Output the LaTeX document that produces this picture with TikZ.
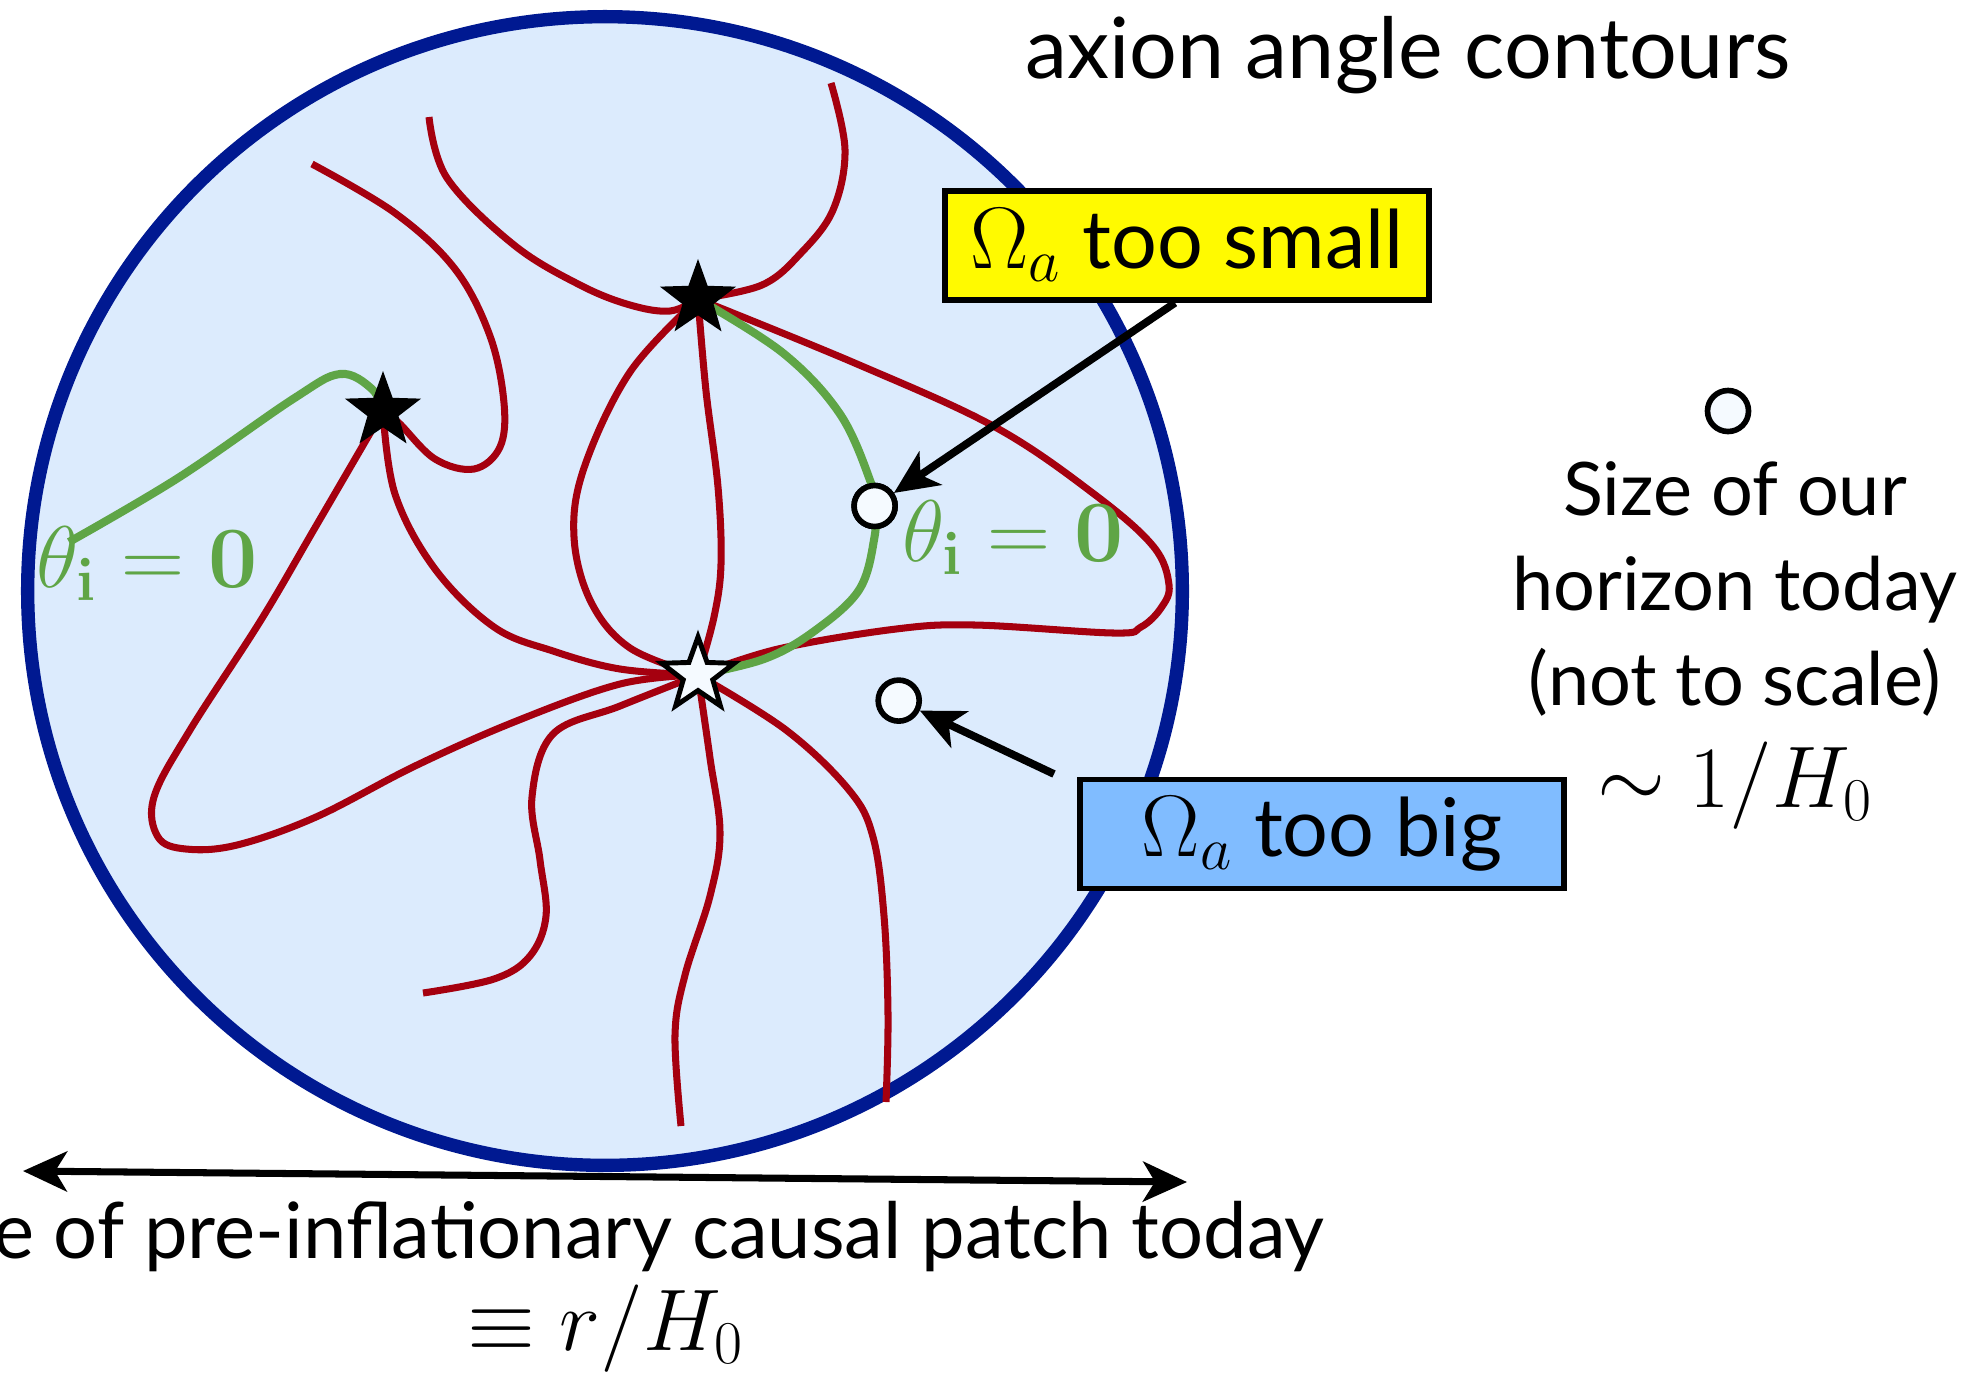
\documentclass[tikz,border=0pt]{standalone}
\usepackage{amsmath,amssymb}
\usepackage[no-math]{fontspec}
\setmainfont{Lato}
\usetikzlibrary{arrows.meta,shapes.geometric}
\definecolor{figN}{RGB}{0,25,145}
\definecolor{figS}{RGB}{220,235,253}
\definecolor{figR}{RGB}{165,0,15}
\definecolor{figG}{RGB}{95,165,70}
\definecolor{figY}{RGB}{255,250,0}
\definecolor{figB}{RGB}{128,188,255}
\definecolor{figW}{RGB}{245,250,255}
\newcommand{\Oma}{{\fontsize{26}{30}\selectfont$\Omega_a$}}

\begin{document}
\begin{tikzpicture}[x=0.01cm,y=-0.01cm,>={Stealth[length=4.4mm,width=4mm,inset=1.2mm]},
  contour/.style={figR,line width=2pt,smooth,tension=0.6},
  zero/.style={figG,line width=2.3pt,smooth,tension=0.6},
  vortex/.style={star,star points=5,star point ratio=2.45,minimum size=8mm,inner sep=0pt},
  patch/.style={circle,draw=black,line width=1.6pt,fill=figW,minimum size=4.1mm,inner sep=0pt},
  tag/.style={draw=black,line width=1.6pt,minimum width=4.84cm,minimum height=1.09cm,inner sep=2pt,font=\fontsize{23}{27}\selectfont},
  lbl/.style={font=\fontsize{21}{27}\selectfont},
  eqn/.style={font=\fontsize{25}{28}\selectfont},
  theta/.style={figG,font=\fontsize{23}{27}\selectfont,inner sep=0pt},
  pointer/.style={->,line width=2.2pt}]
\useasboundingbox (0,0) rectangle (1986,1372);
\node[ellipse,draw=figN,line width=3.8pt,fill=figS,minimum width=11.54cm,minimum height=11.48cm] (sky) at (605,591) {};
% string cores
\coordinate (sT) at (698,299);
\coordinate (sL) at (383,411);
\coordinate (sW) at (698,675);
\node[patch] (hA) at (874.6,506) {};
% contours
\draw[contour] plot coordinates {(312,164) (395,213) (455,269) (490,336) (504,403) (500,447) (474,469) (435,459) (399,423) (sL)};
\draw[contour] plot coordinates {(429,117) (447,178) (514,245) (580,285) (630,305) (670,311) (sT)};
\draw[contour] plot coordinates {(831,83) (845,150) (833,210) (801,253) (762,285) (sT)};
\draw[contour] plot coordinates {(sT) (857,364) (995,427) (1094,494) (1153,546) (1169,585) (1161,608) (1141,627) (1114,633) (975,625) (896,629) (778,649) (sW)};
\draw[contour] plot coordinates {(sT) (630,372) (584,468) (574,537) (591,602) (630,648) (sW)};
\draw[contour] plot coordinates {(sT) (706,391) (718,487) (721,564) (714,617) (sW)};
\draw[contour] plot coordinates {(sL) (316,526) (261,620) (190,730) (154,797) (158,837) (186,849) (237,845) (316,817) (415,766) (514,722) (620,684) (sW)};
\draw[contour] plot coordinates {(sL) (395,494) (435,569) (494,627) (553,651) (620,669) (sW)};
\draw[contour] plot coordinates {(sW) (620,706) (553,734) (532,797) (540,860) (546,916) (530,956) (494,979) (423,993)};
\draw[contour] plot coordinates {(sW) (710,758) (720,833) (710,896) (685,975) (675,1035) (681,1126)};
\draw[contour] plot coordinates {(sW) (786,730) (849,790) (873,837) (884,916) (888,1015) (886,1102)};
\draw[zero] plot coordinates {(69,542) (178,478) (293,399) (340,374) (372,389) (sL)};
\draw[zero] plot coordinates {(sT) (783,353) (840,414) (871,483) (hA) (874.5,537) (859,590) (813,632) (764,659) (sW)};
\node[patch] at (hA) {};
\node[vortex,fill=black] (vT) at (sT) {};
\node[vortex,fill=black] (vL) at (sL) {};
\node[vortex,fill=figW,draw=black,line width=1.4pt,minimum size=7.6mm] (vW) at (sW) {};
\node[theta,anchor=base west] (thL) at (36,587) {$\theta_{\mathbf{i}}=\mathbf{0}$};
\node[theta,anchor=base west] (thR) at (902,561) {$\theta_{\mathbf{i}}=\mathbf{0}$};
\node[patch] (hB) at (898.7,700.6) {};
% labels and boxes
\node[font=\fontsize{24}{28}\selectfont,anchor=base] (title) at (1408,78) {axion angle contours};
\node[tag,fill=figY] (small) at (1187,245.5) {\Oma\ too small};
\node[tag,fill=figB] (big) at (1322,834) {\Oma\ too big};
\draw[pointer] ([xshift=-1.2mm]small.south) -- (hA);
\coordinate (bigtail) at (1054,774);
\draw[pointer] (bigtail) -- (hB);
\node[patch] (hC) at (1728,411) {};
\node[lbl,align=center,anchor=base] (ours) at (1735,705) {Size of our\\horizon today\\(not to scale)};
\node[eqn,anchor=base] (hub) at (1735,807) {$\sim 1/H_0$};
\coordinate (pL) at (23,1171);
\coordinate (pR) at (1187,1182);
\draw[<->,line width=2pt] (pL) -- (pR);
\node[lbl,font=\fontsize{22.1}{27}\selectfont,inner sep=0pt,anchor=base east] (causal) at (1325,1258) {e of pre-inflationary causal patch today};
\node[eqn,inner sep=0pt,anchor=base] (rH) at (606,1350) {$\equiv r/H_0$};
\end{tikzpicture}
\end{document}
